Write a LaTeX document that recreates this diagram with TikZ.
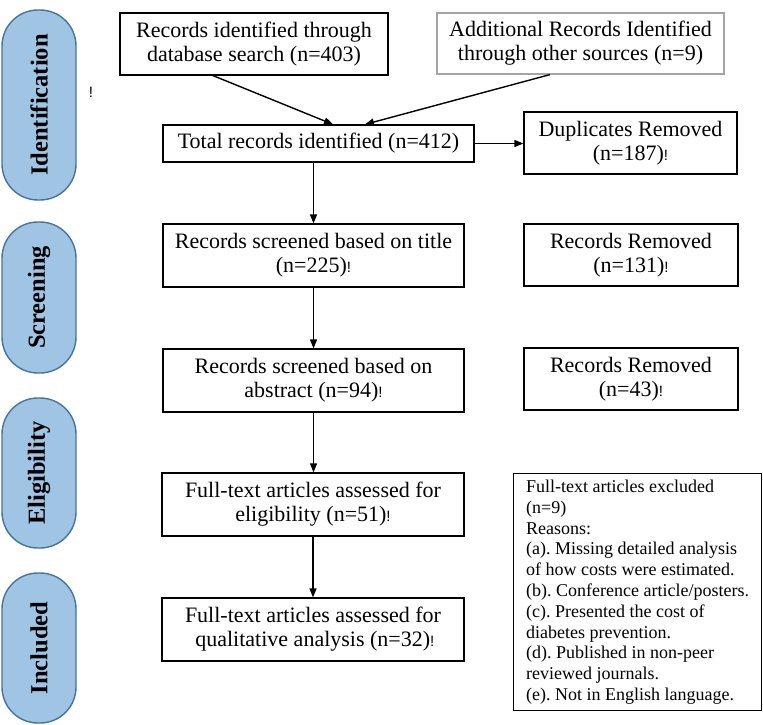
\documentclass[tikz,border=0pt]{standalone}
\usepackage{fontspec}
\setmainfont{Liberation Serif}
\newfontfamily\exfont{Liberation Sans}
\usetikzlibrary{arrows.meta}
\newcommand{\bang}{{\exfont\fontsize{15}{15}\selectfont !}}
\definecolor{pillfill}{RGB}{160,196,228}
\definecolor{pillborder}{RGB}{70,115,158}
\definecolor{graybox}{RGB}{165,165,165}
\frenchspacing
\begin{document}
\begin{tikzpicture}[x=1pt,y=-1pt,
  box/.style={draw=black, line width=1.2pt, align=center, inner sep=0pt, font=\fontsize{22}{24}\selectfont},
  pill/.style={draw=pillborder, fill=pillfill, line width=1.4pt, rounded corners=36pt, minimum height=74pt, inner sep=0pt, rotate=90, font=\bfseries\fontsize{24.5}{26}\selectfont},
  arr/.style={line width=1.4pt, -{Triangle[length=9pt,width=7pt]}}]
\useasboundingbox (0,0) rectangle (763,725);

% phase pills
\node[pill, minimum width=190pt] (p1) at (39,105) {Identification};
\node[pill, minimum width=151pt] (p2) at (39,297.5) {Screening};
\node[pill, minimum width=150pt] (p3) at (39,473) {Eligibility};
\node[pill, minimum width=150pt] (p4) at (39,648) {Included};

\node (stray) at (91,92) {\bang};

% boxes
\node[box, minimum width=268pt, minimum height=62pt] (A) at (254,44) {Records identified through\\database search (n=403)};
\node[box, draw=graybox, minimum width=287pt, minimum height=61pt] (B) at (580.5,43.5) {Additional Records Identified\\through other sources (n=9)};
\node[box, minimum width=311pt, minimum height=37pt] (C) at (318.5,143.5) {Total records identified (n=412)};
\node[box, minimum width=213pt, minimum height=62pt] (D) at (630.5,143) {Duplicates Removed\\(n=187)\bang};
\node[box, minimum width=301pt, minimum height=63pt] (E) at (313.5,255.5) {Records screened based on title\\(n=225)\bang};
\node[box, minimum width=301pt, minimum height=63pt] (F) at (313.5,380.5) {Records screened based on\\abstract (n=94)\bang};
\node[box, minimum width=302pt, minimum height=63pt] (G) at (313,504.5) {Full-text articles assessed for\\eligibility (n=51)\bang};
\node[box, minimum width=302pt, minimum height=63pt] (H) at (313,629.5) {Full-text articles assessed for\\\,qualitative analysis (n=32)\bang};
\node[box, minimum width=214pt, minimum height=62pt] (I) at (631,255) {Records Removed\\(n=131)\bang};
\node[box, minimum width=214pt, minimum height=62pt] (J) at (631,379) {Records Removed\\(n=43)\bang};
\node[draw=black, line width=1.2pt, anchor=north west, inner sep=0pt,
      minimum width=248pt, minimum height=237pt, align=left,
      font=\fontsize{18}{20.8}\selectfont\frenchspacing] (K) at (513,473)
  {Full-text articles excluded\\(n=9)\\Reasons:\\(a). Missing detailed analysis\\of how costs were estimated.\\(b). Conference article/posters.\\(c). Presented the cost of\\diabetes prevention.\\(d). Published in non-peer\\reviewed journals.\\(e). Not in English language.};

% connectors
\draw[arr] ([xshift=-41pt]A.south) -- ([xshift=14.5pt]C.north);
\draw[arr] ([xshift=-30.5pt]B.south) -- ([xshift=46.5pt]C.north);
\draw[arr] (C.east) -- (C.east -| D.west);
\draw[arr] (E.north |- C.south) -- (E.north);
\draw[arr] (E.south) -- (F.north);
\draw[arr] (F.south) -- (F.south |- G.north);
\draw[arr] (G.south) -- (H.north);
\end{tikzpicture}
\end{document}
